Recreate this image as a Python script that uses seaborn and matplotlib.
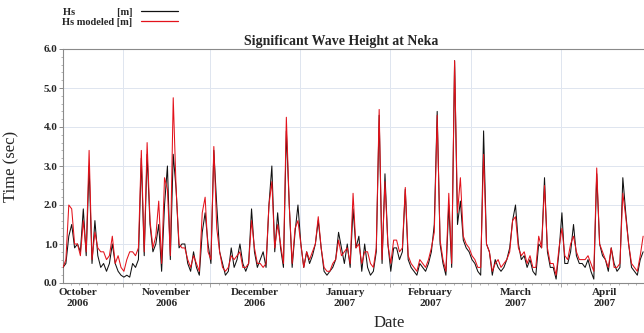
import matplotlib
matplotlib.use("Agg")
import numpy as np
import pandas as pd
import matplotlib.pyplot as plt
import matplotlib.dates as mdates
from matplotlib import font_manager as fm
from matplotlib.lines import Line2D
from matplotlib.ticker import MultipleLocator, FormatStrFormatter, NullFormatter
import seaborn as sns

# ---------------- data ----------------
start = "2006-10-11 08:00"

hs = [
    0.4, 0.5, 1.2, 1.5, 0.9, 1.0, 0.8, 1.9, 0.7, 3.0,
    0.5, 1.6, 0.7, 0.4, 0.5, 0.3, 0.5, 1.0, 0.5, 0.3,
    0.2, 0.15, 0.2, 0.15, 0.5, 0.4, 0.6, 3.2, 0.7, 3.3,
    1.5, 0.8, 1.0, 1.5, 0.3, 2.0, 3.0, 0.6, 3.3, 2.4,
    0.9, 1.0, 1.0, 0.5, 0.3, 0.8, 0.4, 0.2, 1.3, 1.8,
    1.0, 0.5, 3.4, 2.0, 0.8, 0.5, 0.2, 0.3, 0.9, 0.4,
    0.6, 1.0, 0.5, 0.3, 0.5, 1.9, 0.8, 0.4, 0.6, 0.8,
    0.4, 2.0, 3.0, 0.8, 1.8, 0.9, 0.4, 3.9, 2.0, 0.4,
    1.3, 2.0, 1.0, 0.4, 0.8, 0.5, 0.7, 1.0, 1.6, 0.9,
    0.3, 0.2, 0.3, 0.4, 0.6, 1.3, 0.9, 0.5, 1.0, 0.4,
    1.9, 0.9, 1.2, 0.3, 1.0, 0.4, 0.2, 0.3, 0.8, 4.3,
    0.5, 2.8, 1.0, 0.3, 0.9, 0.9, 0.6, 0.8, 2.4, 0.6,
    0.4, 0.3, 0.2, 0.5, 0.4, 0.3, 0.5, 0.8, 1.5, 4.4,
    1.0, 0.5, 0.2, 2.0, 0.4, 5.7, 1.5, 2.1, 1.1, 0.9,
    0.8, 0.6, 0.5, 0.3, 0.2, 3.9, 1.0, 0.8, 0.2, 0.6,
    0.4, 0.3, 0.4, 0.6, 0.9, 1.6, 2.0, 1.0, 0.6, 0.7,
    0.4, 0.6, 0.3, 0.2, 1.0, 0.9, 2.7, 0.8, 0.4, 0.4,
    0.1, 0.8, 1.8, 0.5, 0.5, 0.8, 1.5, 0.7, 0.5, 0.5,
    0.4, 0.6, 0.3, 0.1, 2.8, 1.0, 0.7, 0.6, 0.3, 0.9,
    0.5, 0.3, 0.4, 2.7, 1.8, 1.0, 0.4, 0.3, 0.2, 0.6,
    0.8,
]

hs_model = [
    0.4, 0.6, 2.0, 1.9, 1.0, 1.0, 0.7, 1.6, 0.8, 3.4,
    0.6, 1.3, 0.9, 0.8, 0.8, 0.6, 0.7, 1.2, 0.5, 0.7,
    0.4, 0.3, 0.6, 0.8, 0.8, 0.7, 0.9, 3.4, 0.8, 3.6,
    1.6, 0.9, 1.2, 2.1, 0.5, 2.7, 2.4, 0.7, 4.75, 2.4,
    1.0, 0.9, 0.9, 0.6, 0.4, 0.7, 0.5, 0.3, 1.8, 2.2,
    0.8, 0.6, 3.5, 1.4, 0.8, 0.4, 0.3, 0.4, 0.7, 0.6,
    0.7, 0.8, 0.4, 0.4, 0.5, 1.6, 0.9, 0.5, 0.5, 0.4,
    0.5, 2.0, 2.6, 0.9, 1.5, 1.0, 0.5, 4.25, 2.0, 0.5,
    1.4, 1.6, 1.0, 0.4, 0.8, 0.6, 0.8, 1.0, 1.7, 0.9,
    0.4, 0.3, 0.3, 0.5, 0.6, 1.1, 0.7, 0.8, 0.9, 0.5,
    2.3, 0.9, 1.0, 0.5, 0.8, 0.8, 0.5, 0.4, 0.9, 4.45,
    0.6, 2.6, 1.0, 0.5, 1.1, 1.1, 0.8, 0.9, 2.45, 0.7,
    0.5, 0.4, 0.3, 0.6, 0.5, 0.4, 0.6, 0.9, 1.3, 4.3,
    1.1, 0.6, 0.3, 2.3, 0.5, 5.7, 1.8, 2.7, 1.2, 1.0,
    0.9, 0.7, 0.6, 0.4, 0.4, 3.3, 1.0, 0.8, 0.3, 0.5,
    0.6, 0.4, 0.5, 0.6, 0.8, 1.6, 1.7, 0.9, 0.7, 0.8,
    0.5, 0.7, 0.4, 0.4, 1.2, 0.9, 2.5, 0.9, 0.5, 0.5,
    0.2, 0.9, 1.4, 0.7, 0.6, 1.0, 1.2, 0.8, 0.6, 0.6,
    0.6, 0.7, 0.5, 0.3, 2.95, 1.0, 0.8, 0.6, 0.4, 0.9,
    0.4, 0.4, 0.5, 2.3, 1.7, 1.0, 0.5, 0.4, 0.3, 0.7,
    1.2,
]

series_labels = ["Hs                [m]", "Hs modeled [m]"]
series_colors = ["#111111", "#e3121b"]
month_starts = ["2006-10-01", "2006-11-01", "2006-12-01", "2007-01-01",
                "2007-02-01", "2007-03-01", "2007-04-01", "2007-05-01"]
month_labels = ["October\n2006", "November\n2006", "December\n2006",
                "January\n2007", "February\n2007", "March\n2007", "April\n2007"]
yticks = [0.0, 1.0, 2.0, 3.0, 4.0, 5.0, 6.0]

title = "Significant Wave Height at Neka"
ylabel = "Time (sec)"
xlabel = "Date"

# ---------------- fonts ----------------
def find_serif():
    name = None
    for f in fm.findSystemFonts():
        base = f.split("/")[-1]
        if base.startswith("LiberationSerif"):
            try:
                fm.fontManager.addfont(f)
                name = fm.FontProperties(fname=f).get_name()
            except Exception:
                pass
    return name or "DejaVu Serif"

# ---------------- frame ----------------
n = len(hs)
dates = pd.date_range(start, periods=n, freq="D")
df = pd.DataFrame({
    "Date": list(dates) * 2,
    "Hs": hs + hs_model,
    "Series": [series_labels[0]] * n + [series_labels[1]] * len(hs_model),
})

sns.set_style("ticks")
serif = find_serif()
plt.rcParams["font.family"] = [serif, "DejaVu Serif"]

W, H = 644, 333
fig = plt.figure(figsize=(W / 100, H / 100), dpi=100)
L, R, T, B = 63, 644, 49, 283
ax = fig.add_axes([L / W, 1 - B / H, (R - L) / W, (B - T) / H])

grid_c = "#dfe5ef"
sns.lineplot(data=df, x="Date", y="Hs", hue="Series",
             palette=series_colors, linewidth=0.75,
             estimator=None, ax=ax, zorder=3, legend=False)

t0 = pd.Timestamp(start)
ax.set_xlim(t0, t0 + pd.Timedelta(days=200.3))
ax.set_ylim(0, 6)

# y axis
ax.set_yticks(yticks)
ax.yaxis.set_major_formatter(FormatStrFormatter("%.1f"))
ax.yaxis.set_minor_locator(MultipleLocator(0.2))
for lab in ax.get_yticklabels():
    lab.set_fontweight("bold")
ax.tick_params(axis="y", which="major", labelsize=8, length=3, width=0.6,
               color="#777777", pad=1)
ax.tick_params(axis="y", which="minor", length=1.5, width=0.5, color="#999999")

# x axis: month boundaries as gridlines, labels mid-month
ax.xaxis.set_major_locator(mdates.MonthLocator())
ax.xaxis.set_major_formatter(NullFormatter())
ax.xaxis.set_minor_locator(mdates.DayLocator(interval=3))
ax.tick_params(axis="x", which="major", length=3, width=0.6, color="#999999")
ax.tick_params(axis="x", which="minor", length=1.5, width=0.5, color="#999999")
ms = pd.to_datetime(month_starts)
for i, lab in enumerate(month_labels):
    mid = ms[i] + (ms[i + 1] - ms[i]) / 2
    ax.text(mid, -0.022, lab, transform=ax.get_xaxis_transform(),
            ha="center", va="top", fontsize=8, fontweight="bold",
            linespacing=1.2, clip_on=False)

ax.grid(True, which="major", axis="both", color=grid_c, linewidth=0.7, zorder=0)
ax.set_axisbelow(True)

for side in ["left", "bottom", "top"]:
    ax.spines[side].set_color("#8a8a8a")
    ax.spines[side].set_linewidth(0.8)
ax.spines["right"].set_visible(False)

ax.set_xlabel(xlabel, fontsize=12)
ax.xaxis.set_label_coords((389 - L) / (R - L), -0.135)
ax.set_ylabel(ylabel, fontsize=12)
ax.yaxis.set_label_coords(-0.075, 0.5)

ax.set_title(title, fontsize=10, fontweight="bold", x=(341 - L) / (R - L), pad=3)

handles = [Line2D([], [], color=c, linewidth=0.9) for c in series_colors]
fig.legend(handles, series_labels, loc="upper left", bbox_to_anchor=(53 / W, 1.005),
           frameon=False, markerfirst=False, handlelength=3.6,
           labelspacing=0.05, handletextpad=0.8,
           prop={"weight": "bold", "size": 7.5})

fig.savefig("out.png", dpi=100)
